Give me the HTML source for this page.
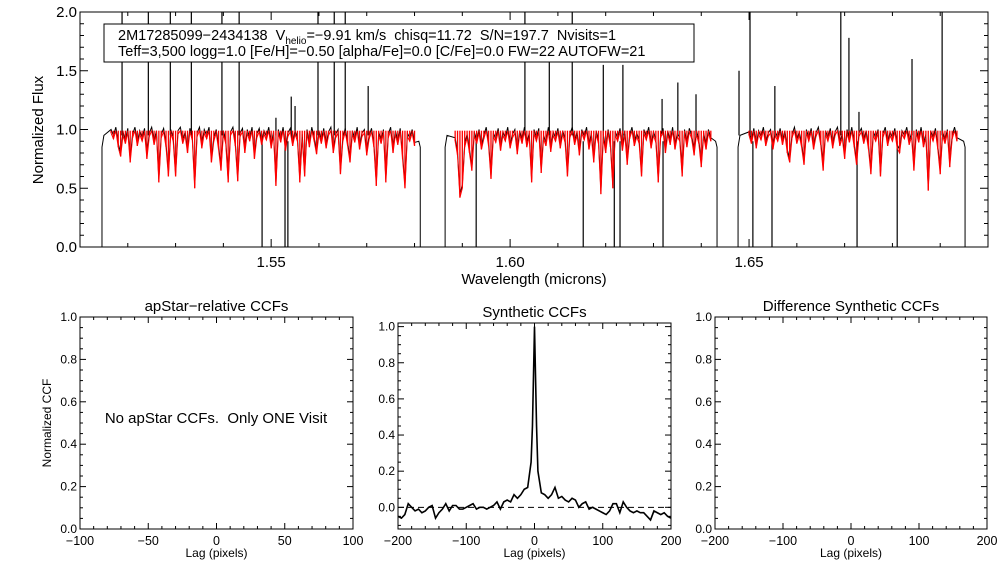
<!DOCTYPE html>
<html><head><meta charset="utf-8">
<style>
html,body{margin:0;padding:0;background:#fff;}
svg{display:block;font-family:"Liberation Sans","DejaVu Sans",sans-serif;}
text{white-space:pre;}
</style></head>
<body>
<svg id="fig" width="1008" height="576" viewBox="0 0 1008 576" xmlns="http://www.w3.org/2000/svg">
  <rect width="1008" height="576" fill="#fff"/>
  <g id="top"></g>
  <g id="p1"></g>
  <g id="p2"></g>
  <g id="p3"></g>
</svg>
<script>
// ---------- spectrum data ----------
const segStarts = [1.5165, 1.5885, 1.6500];
const segStep = 0.0005;
const modelSeg1 = [0.97,0.92,0.99,0.85,0.77,0.95,0.88,0.98,0.72,0.93,
0.99,0.86,0.96,0.9,0.98,0.75,0.94,0.99,0.87,0.96,
0.55,0.93,0.98,0.85,0.6,0.97,0.9,0.6,0.96,0.99,
0.88,0.95,0.8,0.98,0.91,0.5,0.94,0.99,0.84,0.97,
0.92,0.99,0.72,0.9,0.97,0.83,0.65,0.96,0.88,0.55,
0.95,0.99,0.86,0.56,0.94,0.98,0.8,0.97,0.9,0.99,
0.75,0.93,0.98,0.87,0.96,0.91,0.99,0.84,0.95,0.52,
0.97,0.89,0.99,0.82,0.94,0.98,0.86,0.96,0.9,0.55,
0.93,0.6,0.97,0.85,0.99,0.9,0.79,0.96,0.88,0.98,
0.84,0.95,0.99,0.8,0.93,0.97,0.62,0.9,0.98,0.86,
0.72,0.96,0.89,0.99,0.83,0.94,0.97,0.78,0.92,0.98,
0.85,0.52,0.95,0.88,0.97,0.55,0.93,0.99,0.8,0.96,
0.87,0.98,0.75,0.5,0.94,0.9,0.97,0.86];
const modelSeg2 = [0.9,0.78,0.42,0.5,0.85,0.93,0.8,0.65,0.95,0.88,
0.97,0.83,0.92,0.99,0.86,0.58,0.94,0.89,0.98,0.82,
0.95,0.9,0.99,0.84,0.93,0.97,0.79,0.96,0.88,0.99,
0.85,0.94,0.55,0.97,0.9,0.98,0.63,0.92,0.86,0.99,
0.81,0.95,0.9,0.98,0.84,0.96,0.89,0.6,0.93,0.99,
0.87,0.95,0.78,0.97,0.91,0.99,0.83,0.94,0.72,0.96,
0.88,0.45,0.93,0.8,0.97,0.85,0.5,0.95,0.9,0.98,
0.82,0.96,0.7,0.92,0.99,0.86,0.94,0.88,0.6,0.97,
0.91,0.99,0.84,0.95,0.89,0.55,0.93,0.98,0.8,0.96,
0.87,0.99,0.83,0.94,0.9,0.6,0.97,0.85,0.98,0.92,
0.78,0.96,0.88,0.68,0.94,0.83,0.97,0.9];
const modelSeg3 = [0.95,0.88,0.98,0.84,0.96,0.91,0.99,0.86,0.94,0.97,
0.83,0.95,0.9,0.98,0.87,0.96,0.8,0.72,0.93,0.99,
0.88,0.95,0.85,0.7,0.97,0.9,0.98,0.83,0.94,0.99,
0.87,0.65,0.96,0.9,0.98,0.84,0.95,0.99,0.86,0.93,
0.75,0.97,0.89,0.99,0.85,0.7,0.94,0.98,0.88,0.96,
0.83,0.62,0.95,0.9,0.97,0.6,0.93,0.99,0.86,0.95,
0.9,0.98,0.84,0.8,0.96,0.92,0.99,0.87,0.94,0.65,
0.97,0.89,0.99,0.85,0.93,0.48,0.96,0.9,0.98,0.83,
0.62,0.95,0.88,0.97,0.68,0.92,0.99,0.9];
const obsSegEdges = [[1.5146,1.5812],[1.5864,1.6433],[1.6477,1.6952]];
const spikeWaves = [1.5188,1.5243,1.5289,1.5333,1.5397,1.5433,1.5510,1.5542,1.5550,1.5598,1.5632,1.5655,1.5703,
1.6031,1.6082,1.6130,1.6195,1.6236,1.6318,1.6351,1.6389,1.6479,1.6502,1.6554,1.6692,1.6709,1.6730,1.6841,1.6904];
const spikeVals = [2.1,2.1,2.1,2.1,2.1,2.1,1.1,1.28,1.2,2.1,2.1,2.1,1.37,
2.1,1.57,2.1,1.55,1.55,1.26,1.4,1.3,1.5,2.1,1.37,2.1,1.78,1.15,1.6,2.1];
const dropWaves = [1.5481,1.5529,1.5535,1.5929,1.6153,1.6218,1.6230,1.6320,1.6508,1.6548,1.6726,1.6810];
const xTicksTop = [1.55,1.60,1.65];
const yTicksTop = [0.0,0.5,1.0,1.5,2.0];

// ---------- CCF data ----------
const ccfLags = [-200,-195,-190,-185,-180,-175,-170,-165,-160,-155,-150,-145,-140,-135,-130,-125,-120,-115,-110,-105,-100,-95,-90,-85,-80,-75,-70,-65,-60,-55,-50,-45,-40,-35,-30,-25,-20,-15,-10,-5,-3,0,3,5,10,15,20,25,30,35,40,45,50,55,60,65,70,75,80,85,90,95,100,105,110,115,120,125,130,135,140,145,150,155,160,165,170,175,180,185,190,195,200];
const ccfVals = [-0.05,-0.06,-0.04,0.02,0.0,-0.02,-0.01,-0.03,-0.02,0.0,0.01,-0.06,-0.03,-0.01,0.02,-0.02,0.01,0.01,-0.01,-0.01,0.0,0.01,0.02,-0.01,0.0,0.0,-0.01,0.0,0.01,0.03,-0.01,0.03,0.04,0.03,0.07,0.05,0.07,0.1,0.11,0.25,0.45,1.0,0.45,0.2,0.08,0.07,0.05,0.07,0.11,0.05,0.06,0.04,0.03,0.05,0.04,0.0,0.02,0.03,-0.01,0.0,-0.01,-0.02,-0.03,-0.04,-0.02,0.02,0.02,-0.03,0.03,0.0,-0.02,-0.03,-0.02,-0.03,-0.03,-0.05,-0.07,-0.02,-0.03,-0.04,-0.03,-0.05,-0.06];
const ccfYTicks = [0.0,0.2,0.4,0.6,0.8,1.0];
const lagTicksA = [-100,-50,0,50,100];
const lagTicksB = [-200,-100,0,100,200];

const NS="http://www.w3.org/2000/svg";
function mk(parent, tag, attrs, text){
  const e=document.createElementNS(NS,tag);
  for(const k in attrs) e.setAttribute(k,attrs[k]);
  if(text!==undefined) e.textContent=text;
  parent.appendChild(e); return e;
}
function fmt(v,d){ return (v<0?"\u2212":"")+Math.abs(v).toFixed(d); }

// ---------- top spectrum panel ----------
(function(){
  const g=document.getElementById('top');
  const L=80,R=988,T=12,B=247, x0=1.51,x1=1.70, y0=0,y1=2;
  const X=w=>L+(w-x0)/(x1-x0)*(R-L);
  const Y=v=>B-(v-y0)/(y1-y0)*(B-T);
  const cp=mk(g,'clipPath',{id:'topclip'}); mk(cp,'rect',{x:L,y:T,width:R-L,height:B-T});
  const data=mk(g,'g',{'clip-path':'url(#topclip)'});
  
  
  const segs=[modelSeg1,modelSeg2,modelSeg3];
  // observed (black)
  segs.forEach((arr,i)=>{
    const e=obsSegEdges[i];
    let pts=[[X(e[0]),Y(0)],[X(e[0]),Y(0.85)],[X(e[0]+0.0004),Y(0.95)]];
    arr.forEach((v,j)=>pts.push([X(segStarts[i]+j*segStep),Y(Math.min(v+0.03,1.04))]));
    pts.push([X(e[1]-0.0003),Y(0.9)],[X(e[1]),Y(0.85)],[X(e[1]),Y(0)]);
    const p=mk(data,'polyline',{points:pts.map(q=>q.join(',')).join(' '),fill:'none',stroke:'#000','stroke-width':1});
    
    
  });
  spikeWaves.forEach((w,i)=>{
    const l=mk(data,'line',{x1:X(w),x2:X(w),y1:Y(0.95),y2:Y(spikeVals[i]),stroke:'#000','stroke-width':1.2});
    
    
  });
  dropWaves.forEach(w=>{
    const l=mk(data,'line',{x1:X(w),x2:X(w),y1:Y(0.9),y2:Y(0),stroke:'#000','stroke-width':1.2});
    
    
  });
  // model (red)
  segs.forEach((arr,i)=>{
    const pts=arr.map((v,j)=>X(segStarts[i]+j*segStep)+','+Y(v)).join(' ');
    const p=mk(data,'polyline',{points:pts,fill:'none',stroke:'#ff0000','stroke-width':1});
    
    
    arr.forEach((v,j)=>{
      const x=X(segStarts[i]+j*segStep);
      const l=mk(data,'line',{x1:x,x2:x,y1:Y(0.99),y2:Y(v),stroke:'#ff0000','stroke-width':1.3});
      
      
    });
  });
  // axes box
  const box=mk(g,'rect',{x:L,y:T,width:R-L,height:B-T,fill:'none',stroke:'#000','stroke-width':1});
  
  
  for(let w=1.51;w<=1.7001;w+=0.01){
    const x=X(w); const major=xTicksTop.some(t=>Math.abs(t-w)<1e-6);
    const len=major?8:4;
    mk(g,'line',{x1:x,x2:x,y1:B,y2:B-len,stroke:'#000'});
    mk(g,'line',{x1:x,x2:x,y1:T,y2:T+len,stroke:'#000'});
  }
  for(let v=0;v<=2.0001;v+=0.1){
    const y=Y(v); const major=yTicksTop.some(t=>Math.abs(t-v)<1e-6);
    const len=major?8:4;
    mk(g,'line',{x1:L,x2:L+len,y1:y,y2:y,stroke:'#000'});
    mk(g,'line',{x1:R,x2:R-len,y1:y,y2:y,stroke:'#000'});
  }
  xTicksTop.forEach(t=>{
    const e=mk(g,'text',{x:X(t),y:267,'font-size':15,'text-anchor':'middle'},t.toFixed(2));
    
    
  });
  yTicksTop.forEach(t=>{
    const e=mk(g,'text',{x:L-3,y:Y(t)+5,'font-size':15,'text-anchor':'end'},t.toFixed(1));
    
    
  });
  const xt=mk(g,'text',{x:534,y:284,'font-size':15,'text-anchor':'middle'},'Wavelength (microns)');
  
  
  const yt=mk(g,'text',{x:0,y:0,'font-size':15,'text-anchor':'middle',transform:'translate(43,130) rotate(-90)'},'Normalized Flux');
  
  
  // info box
  const ib=mk(g,'g',{});
  
  
  mk(ib,'rect',{x:104,y:24,width:590,height:38,fill:'#fff',stroke:'#000','stroke-width':1});
  const t1=mk(ib,'text',{x:118,y:40,'font-size':14.5});
  mk(t1,'tspan',{},'2M17285099\u22122434138  V');
  mk(t1,'tspan',{'font-size':10,dy:4},'helio');
  mk(t1,'tspan',{dy:-4},'=\u22129.91 km/s  chisq=11.72  S/N=197.7  Nvisits=1');
  
  
  const t2=mk(ib,'text',{x:118,y:56,'font-size':14.5},'Teff=3,500 logg=1.0 [Fe/H]=\u22120.50 [alpha/Fe]=0.0 [C/Fe]=0.0 FW=22 AUTOFW=21');
  
  
})();

// ---------- CCF panels ----------
function ccfPanel(id,L,R,T,B,xmin,xmax,ymin,ymax,xticks,minorX,minorY,title,showYTitle){
  const g=document.getElementById(id);
  const X=v=>L+(v-xmin)/(xmax-xmin)*(R-L);
  const Y=v=>B-(v-ymin)/(ymax-ymin)*(B-T);
  const f=mk(g,'rect',{x:L,y:T,width:R-L,height:B-T,fill:'none',stroke:'#000','stroke-width':1});
  
  
  for(let v=xmin;v<=xmax+1e-6;v+=minorX){
    const major=xticks.some(t=>Math.abs(t-v)<1e-6); const len=major?6:3;
    mk(g,'line',{x1:X(v),x2:X(v),y1:B,y2:B-len,stroke:'#000'});
    mk(g,'line',{x1:X(v),x2:X(v),y1:T,y2:T+len,stroke:'#000'});
  }
  for(let v=Math.ceil(ymin/minorY)*minorY;v<=ymax+1e-6;v+=minorY){
    const major=ccfYTicks.some(t=>Math.abs(t-v)<1e-6); const len=major?6:3;
    mk(g,'line',{x1:L,x2:L+len,y1:Y(v),y2:Y(v),stroke:'#000'});
    mk(g,'line',{x1:R,x2:R-len,y1:Y(v),y2:Y(v),stroke:'#000'});
  }
  xticks.forEach(t=>{
    const e=mk(g,'text',{x:X(t),y:B+16,'font-size':12.5,'text-anchor':'middle'},fmt(t,0));
    
    
  });
  ccfYTicks.forEach(t=>{
    const e=mk(g,'text',{x:L-3,y:Y(t)+4,'font-size':12,'text-anchor':'end'},t.toFixed(1));
    
    
  });
  const xt=mk(g,'text',{x:(L+R)/2,y:B+28,'font-size':12,'text-anchor':'middle'},'Lag (pixels)');
  
  
  const tt=mk(g,'text',{x:(L+R)/2,y:T-6,'font-size':15,'text-anchor':'middle'},title);
  
  
  if(showYTitle){
    const yt=mk(g,'text',{x:0,y:0,'font-size':12,'text-anchor':'middle',transform:'translate(51,423) rotate(-90)'},'Normalized CCF');
    
    
  }
  return {g,X,Y};
}
const a=ccfPanel('p1',80,353,317,529,-100,100,0,1.0,lagTicksA,10,0.05,'apStar\u2212relative CCFs',true);
const msg=mk(a.g,'text',{x:216,y:423,'font-size':15,'text-anchor':'middle'},'No apStar CCFs.  Only ONE Visit');



const b=ccfPanel('p2',398,671,323,529,-200,200,-0.12,1.02,lagTicksB,20,0.05,'Synthetic CCFs',false);
const zl=mk(b.g,'line',{x1:b.X(-200),x2:b.X(200),y1:b.Y(0),y2:b.Y(0),stroke:'#000','stroke-dasharray':'6,4','stroke-width':1});


const ccfLine=mk(b.g,'polyline',{points:ccfLags.map((l,i)=>b.X(l)+','+b.Y(ccfVals[i])).join(' '),fill:'none',stroke:'#000','stroke-width':1.6});



ccfPanel('p3',715,987,317,529,-200,200,0,1.0,lagTicksB,20,0.05,'Difference Synthetic CCFs',false);
</script>
</body></html>
